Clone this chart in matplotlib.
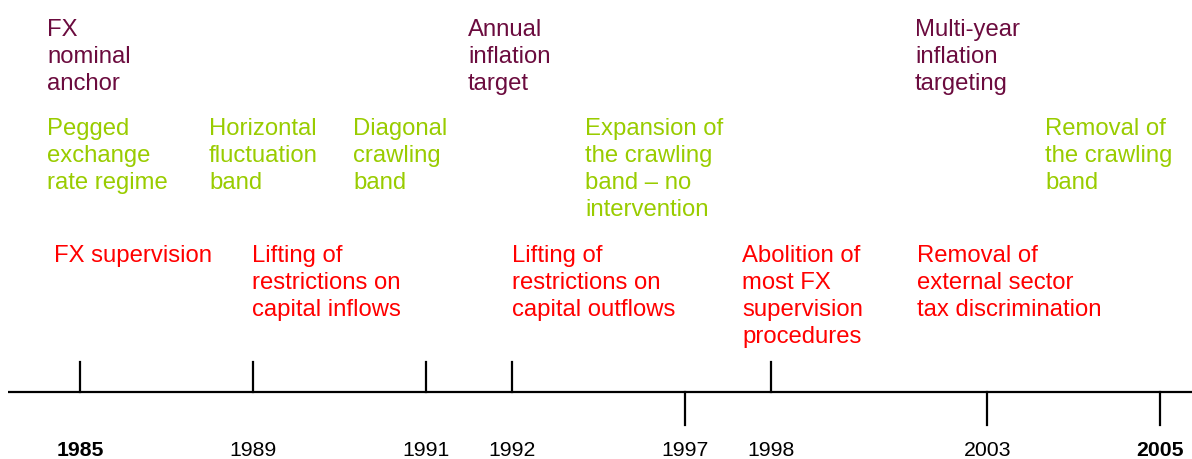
import matplotlib.pyplot as plt

plt.rcParams['font.family'] = ['Liberation Sans', 'DejaVu Sans']

# timeline years, which side the tick goes and where along the line (in slots)
years = ['1985', '1989', '1991', '1992', '1997', '1998', '2003', '2005']
tick_up = [True, True, True, True, False, True, False, False]
slots = [0, 2, 4, 5, 7, 8, 10.5, 12.5]
bold_years = ['1985', '2005']

# nominal anchor row
anchor_labels = ['FX\nnominal\nanchor', 'Annual\ninflation\ntarget',
                 'Multi-year\ninflation\ntargeting']
# exchange rate regime row
regime_labels = ['Pegged\nexchange\nrate regime', 'Horizontal\nfluctuation\nband',
                 'Diagonal\ncrawling\nband',
                 'Expansion of\nthe crawling\nband \u2013 no\nintervention',
                 'Removal of\nthe crawling\nband']
# capital account row
capital_labels = ['FX supervision', 'Lifting of\nrestrictions on\ncapital inflows',
                  'Lifting of\nrestrictions on\ncapital outflows',
                  'Abolition of\nmost FX\nsupervision\nprocedures',
                  'Removal of\nexternal sector\ntax discrimination']

W, H = 1192, 459
fig = plt.figure(figsize=(W / 100, H / 100), dpi=100)
ax = fig.add_axes([0, 0, 1, 1])
ax.axis('off')

x0, step = 80, 86.4  # pixel position of slot 0 and width of one slot
ax.set_xlim((0 - x0) / step, (W - x0) / step)
ax.set_ylim(H, 0)

# main line
ax.plot([(8 - x0) / step, (W - x0) / step], [392, 392], color='black', lw=1.6,
        solid_capstyle='butt')

for yr, up, s in zip(years, tick_up, slots):
    if up:
        ax.plot([s, s], [362, 392], color='black', lw=1.6)
    else:
        ax.plot([s, s], [392, 425], color='black', lw=1.6)
    ax.text(s, 451, yr, ha='center', va='center', fontsize=15.3,
            fontweight='bold' if yr in bold_years else 'normal')


def px(x, y):
    return x / W, 1 - y / H


fs = 17.2
ls = 1.285
maroon = '#6b0b3e'
green = '#99cc00'
red = '#ff0000'

anchor_x = [47, 468, 915]
for lab, x in zip(anchor_labels, anchor_x):
    fig.text(*px(x, 19), lab, color=maroon, fontsize=fs, va='top', ha='left',
             linespacing=ls)

regime_x = [47, 209, 353, 585, 1045]
for lab, x in zip(regime_labels, regime_x):
    fig.text(*px(x, 118), lab, color=green, fontsize=fs, va='top', ha='left',
             linespacing=ls)

capital_x = [54, 252, 512, 742, 917]
for lab, x in zip(capital_labels, capital_x):
    fig.text(*px(x, 245), lab, color=red, fontsize=fs, va='top', ha='left',
             linespacing=ls)

fig.savefig('out.png', dpi=100)
